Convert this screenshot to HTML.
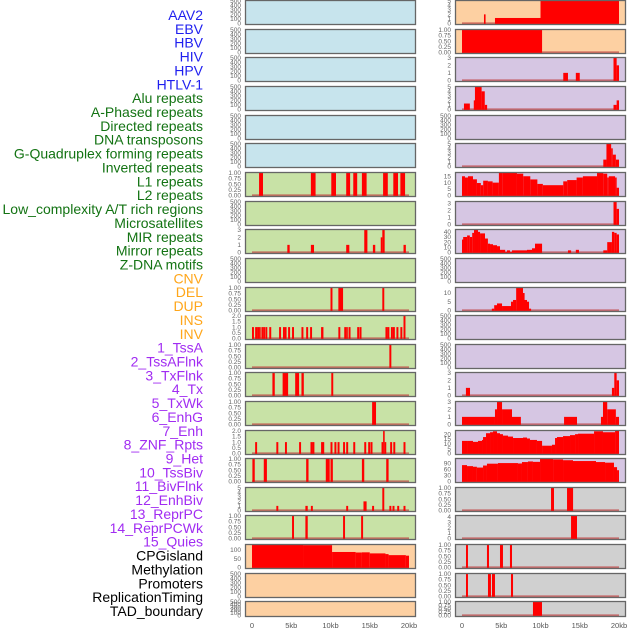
<!DOCTYPE html>
<html><head><meta charset="utf-8">
<style>
html,body{margin:0;padding:0;background:#fff;}
svg{display:block;font-family:"Liberation Sans",sans-serif;}
</style></head>
<body>
<svg id="chart" width="630" height="630" viewBox="0 0 630 630" xmlns="http://www.w3.org/2000/svg"></svg>
<script>
// ---- data (kb segments: [startKb, endKb, value]) ----
const labels = ["AAV2","EBV","HBV","HIV","HPV","HTLV-1","Alu repeats","A-Phased repeats","Directed repeats","DNA transposons","G-Quadruplex forming repeats","Inverted repeats","L1 repeats","L2 repeats","Low_complexity A/T rich regions","Microsatellites","MIR repeats","Mirror repeats","Z-DNA motifs","CNV","DEL","DUP","INS","INV","1_TssA","2_TssAFlnk","3_TxFlnk","4_Tx","5_TxWk","6_EnhG","7_Enh","8_ZNF_Rpts","9_Het","10_TssBiv","11_BivFlnk","12_EnhBiv","13_ReprPC","14_ReprPCWk","15_Quies","CPGisland","Methylation","Promoters","ReplicationTiming","TAD_boundary"];
const labelGroups = [6,13,5,15,5];
const xTickLabels = ["0","5kb","10kb","15kb","20kb"];
const xTickValues = [0,5,10,15,20];

const segAlu = [[0.9,1.4,1],[7.5,8.1,1],[10.1,10.7,1],[12.0,12.5,1],[12.9,13.4,1],[14.0,14.6,1],[16.7,17.3,1],[18.0,18.6,1],[18.9,19.5,1]];
const segDirected = [[4.5,4.8,1],[7.5,7.9,1],[12.0,12.4,1],[14.3,14.7,3],[15.4,15.7,1],[16.4,16.6,2],[16.6,16.9,3],[19.3,19.6,1]];
const segGQuad = [[10.0,10.25,1],[11.0,11.6,1],[16.6,16.85,1]];
const segInverted = [[0.0,0.25,1],[0.4,0.65,1],[0.65,0.9,1],[0.9,1.1,1],[1.2,1.45,1],[1.45,1.6,1],[1.7,1.95,1],[2.2,2.45,1],[3.45,3.7,1],[3.95,4.2,1],[4.2,4.4,1],[4.6,4.85,1],[5.1,5.35,1],[6.3,6.55,1],[6.9,7.15,1],[7.4,7.65,1],[8.8,9.1,1],[11.0,11.25,1],[11.75,12.0,1],[12.0,12.2,1],[12.3,12.55,1],[13.4,13.65,1],[13.7,13.95,1],[17.0,17.25,1],[17.25,17.5,1],[17.7,17.95,1],[17.95,18.2,1],[18.4,18.65,1],[18.9,19.15,1],[19.3,19.55,2]];
const segL1 = [[17.5,17.75,1]];
const segL2 = [[2.6,2.9,1],[3.9,4.6,1],[5.5,6.0,1],[6.3,6.6,1],[10.1,10.35,1]];
const segLowComplexity = [[15.3,15.8,1]];
const segMicrosat = [[0.4,0.65,1],[3.1,3.35,1],[4.2,4.45,1],[6.0,6.25,1],[7.45,7.7,1],[7.7,7.95,1],[8.8,9.2,1],[10.0,10.25,1],[10.5,10.75,1],[10.9,11.15,1],[11.6,11.85,1],[12.0,12.25,1],[12.9,13.15,1],[14.3,14.55,1],[14.8,15.05,1],[15.1,15.35,1],[16.5,16.7,1],[16.7,16.9,2],[16.9,17.1,1],[17.6,17.85,1],[18.0,18.25,1],[19.3,19.55,1]];
const segMIR = [[0.05,0.35,1],[1.5,1.9,1],[6.9,7.2,1],[9.4,9.9,1],[10.0,10.3,1],[14.0,14.3,1],[17.1,17.4,1]];
const segMirror = [[3.1,3.35,1],[6.8,7.1,1],[7.5,7.75,1],[12.0,12.25,1],[14.2,14.6,2],[15.3,15.55,1],[16.6,16.85,5],[17.5,17.75,1],[17.9,18.15,1],[18.5,18.75,1],[19.3,19.55,1]];
const segZDNA = [[5.1,5.35,1],[6.8,7.1,1],[11.6,11.85,1],[13.9,14.15,1]];
const segCNV = [[0,6.5,128],[6.5,10.2,127],[10.2,13.2,88],[13.2,14.0,85],[14.0,15.0,86],[15.0,17.0,80],[17.0,17.4,76],[17.4,19.6,70],[19.6,20.0,67]];

const segINS = [[2.8,3.0,2],[4.2,10.0,1.2],[10.0,20.0,5]];
const segINV = [[0,10.2,1]];
const segTssA = [[12.9,13.5,1],[14.5,15.0,1],[19.3,19.7,3],[19.7,20,2]];
const segTssAFlnk = [[0.25,1.0,1.3],[1.5,1.65,2],[1.65,2.5,5],[2.5,2.9,4],[2.9,3.2,1],[19.3,19.7,1],[19.7,20,2]];
const segTx = [[18.0,18.4,1.5],[18.4,19.0,5],[19.0,19.2,4],[19.2,19.6,2.6],[19.6,20,1.5]];
const segTxWk = [[0,0.38,15],[0.38,0.76,14],[0.76,1.4,15],[1.4,1.9,12.6],[1.9,2.4,9.7],[2.4,2.7,8],[2.7,3.3,11.5],[3.3,3.9,11],[3.9,4.7,10],[4.7,5.2,17.8],[5.2,7.0,17.8],[7.0,7.8,17],[7.8,8.7,15],[8.7,9.6,12.5],[9.6,10.3,9],[10.3,12.9,8],[12.9,13.4,11],[13.4,14.6,12],[14.6,15.4,14],[15.4,17.2,15],[17.2,18.0,17.5],[18.0,18.5,17],[18.5,18.7,14],[18.7,19.5,15],[19.5,19.7,14],[19.7,20.0,6]];
const segEnhG = [[19.3,19.7,3.2],[19.7,20.0,2.2]];
const segEnh = [[0,0.15,25],[0.15,0.65,30],[0.65,1.0,33],[1.0,1.3,30],[1.3,1.53,38],[1.53,2.04,44],[2.04,2.3,40],[2.3,2.93,37],[2.93,3.3,27],[3.3,3.57,17],[3.57,3.95,16],[3.95,4.46,14],[4.46,4.84,12],[4.84,5.5,5],[5.5,5.73,1],[5.73,6.11,4],[6.11,6.37,1],[6.37,8.28,4],[8.28,8.92,5],[8.92,9.3,8],[9.3,10.2,17],[13.5,13.9,4],[14.5,14.9,5],[18.0,18.5,4],[18.5,19.1,20],[19.1,19.4,40],[19.4,19.7,38],[19.7,20.0,35]];
const segHet = [[3.8,4.1,1],[4.1,4.46,3],[4.46,5.1,4],[5.1,6.24,2.5],[6.24,6.5,5],[6.5,6.9,6],[6.9,7.77,13.8],[7.77,7.9,10],[7.9,8.28,6],[8.28,8.54,5],[8.54,8.8,1]];
const segEnhBiv = [[0.5,1.02,1],[19.1,19.4,1],[19.4,19.7,3],[19.7,20.0,2]];
const segReprPC = [[0,4.2,1],[4.2,4.46,2],[4.46,5.1,3],[5.1,6.37,2],[6.37,7.5,1],[13.0,14.65,1],[17.7,17.96,1],[17.96,18.5,3],[18.5,19.6,2],[19.6,20.0,1]];
const segReprPCWk = [[0,0.76,13],[0.76,1.4,13],[1.4,2.04,12],[2.04,2.55,13],[2.55,2.68,14],[2.68,3.06,17],[3.06,3.57,21],[3.57,3.95,22],[3.95,4.46,23],[4.46,4.84,21],[4.84,5.22,20],[5.22,5.86,18.5],[5.86,6.5,17.5],[6.5,7.77,16],[7.77,8.28,16.5],[8.28,8.66,15.5],[8.66,9.55,14],[9.55,10.2,13],[10.2,11.46,8],[11.46,11.85,9],[11.85,12.1,16],[12.1,12.87,17],[12.87,13.76,18],[13.76,14.4,19],[14.4,14.78,20],[14.78,16.82,20.5],[16.82,17.96,23],[17.96,19.5,22],[19.5,20.0,24]];
const segQuies = [[0,0.64,80],[0.64,1.4,75],[1.4,1.9,72],[1.9,2.68,68],[2.68,3.18,78],[3.18,4.58,87],[4.58,7.13,90],[7.13,7.64,88],[7.64,8.4,95],[8.4,9.04,98],[9.04,9.94,96],[9.94,11.6,112],[11.6,12.87,108],[12.87,14.14,104],[14.14,17.07,100],[17.07,18.22,95],[18.22,19.36,92],[19.36,19.75,70],[19.75,20.0,55]];
const segCPG = [[11.34,11.72,1],[13.38,14.15,1]];
const segMethyl = [[13.89,14.65,4.3]];
const segPromoters = [[0.51,0.76,1],[3.18,3.44,1],[4.84,5.22,1],[6.11,6.37,1]];
const segReplication = [[0.51,0.76,1],[3.31,3.69,1],[3.82,4.2,1],[6.24,6.5,1]];
const segTAD = [[9.04,10.19,1]];

const emptyTicks = [0,100,200,300,400,500];
const ticks01 = [0,0.25,0.5,0.75,1];

// panel config: [data, yMax, ticks, decimals]
const leftPanels = [
 [null],[null],[null],[null],[null],[null],
 [segAlu,1,ticks01,2],[null],[segDirected,3,[0,1,2,3],0],[null],
 [segGQuad,1,ticks01,2],[segInverted,2,[0,0.5,1,1.5,2],1],[segL1,1,ticks01,2],[segL2,1,ticks01,2],
 [segLowComplexity,1,ticks01,2],[segMicrosat,2,[0,0.5,1,1.5,2],1],[segMIR,1,ticks01,2],[segMirror,5,[0,1,2,3,4,5],0],
 [segZDNA,1,ticks01,2],[segCNV,129,[0,50,100],0],[null],[null]
];
const rightPanels = [
 [segINS,5,[0,1,2,3,4,5],0],[segINV,1,ticks01,2],[segTssA,3,[0,1,2,3],0],[segTssAFlnk,5,[0,1,2,3,4,5],0],
 [null],[segTx,5,[0,1,2,3,4,5],0],[segTxWk,17.7,[0,5,10,15],0],[segEnhG,3.2,[0,1,2,3],0],
 [segEnh,44,[0,10,20,30,40],0],[null],[segHet,13,[0,5,10],0],[null],[null],
 [segEnhBiv,3,[0,1,2,3],0],[segReprPC,3,[0,1,2,3],0],[segReprPCWk,23.5,[0,5,10,15,20],0],[segQuies,111,[0,30,60,90],0],
 [segCPG,1,ticks01,2],[segMethyl,4.2,[0,1,2,3,4],0],[segPromoters,1,ticks01,2],[segReplication,1,ticks01,2],[segTAD,1,ticks01,2]
];
const rowTops = [0,29,57,86,115,143,172,201,229,258,287,315,344,372,401,430,458,487,515,544,573,601];
const leftColors = ["#c7e4ed","#c7e4ed","#c7e4ed","#c7e4ed","#c7e4ed","#c7e4ed","#c8e2a6","#c8e2a6","#c8e2a6","#c8e2a6","#c8e2a6","#c8e2a6","#c8e2a6","#c8e2a6","#c8e2a6","#c8e2a6","#c8e2a6","#c8e2a6","#c8e2a6","#fdd0a2","#fdd0a2","#fdd0a2"];
const rightColors = ["#fdd0a2","#fdd0a2","#d6c6e3","#d6c6e3","#d6c6e3","#d6c6e3","#d6c6e3","#d6c6e3","#d6c6e3","#d6c6e3","#d6c6e3","#d6c6e3","#d6c6e3","#d6c6e3","#d6c6e3","#d6c6e3","#d6c6e3","#d0d0d0","#d0d0d0","#d0d0d0","#d0d0d0","#d0d0d0"];

const NS = "http://www.w3.org/2000/svg";
const svg = document.getElementById("chart");
function mk(tag, attrs){ const e=document.createElementNS(NS,tag); for(const k in attrs) e.setAttribute(k,attrs[k]); return e; }

// labels
const groupColors = ["#1f1fef","#137313","#ffa61a","#a12cf2","#000000"];
let li=0;
labelGroups.forEach((n,g)=>{ for(let i=0;i<n;i++){
  const t=mk("text",{x:203,y:20+li*13.86,"text-anchor":"end","font-size":"14",fill:groupColors[g]});
  
  
  t.textContent=labels[li]; svg.appendChild(t); li++; }});

function xScale(col, kb){ return (col===0?252:462) + kb*7.85; }

function drawPanel(col,row,cfg,color){
  const x0 = col===0?245:455, w=171;
  const top = rowTops[row], h = row===21?16:25;
  const g = mk("g",{});
  
  
  svg.appendChild(g);
  const bg = mk("rect",{x:x0,y:top,width:w,height:h,fill:color});
  
  
  g.appendChild(bg);
  const data=cfg[0];
  const yTop=top+0.8, yZero=top+h-1.6;
  let yMax = data?cfg[1]:500, ticks = data?cfg[2]:emptyTicks, dec = data?cfg[3]:0;
  const ys = v => yZero - (v/yMax)*(yZero-yTop);
  if(data){
    const base=mk("line",{x1:xScale(col,0),x2:xScale(col,20),y1:yZero,y2:yZero,stroke:"#c04040","stroke-width":2,"stroke-opacity":0.7});
    
    
    g.appendChild(base);
    data.forEach(s=>{
      const xa=xScale(col,s[0]), xb=xScale(col,s[1]);
      const yv=Math.max(top, ys(s[2]));
      const r=mk("rect",{x:xa,y:yv,width:Math.max(1.6,xb-xa),height:yZero+0.5-yv,fill:"#ff0000"});
      
      
      g.appendChild(r);
    });
  }
  const fr=mk("rect",{x:x0+0.5,y:top+0.5,width:w-1,height:h-1,fill:"none",stroke:"#666","stroke-width":1.3});
  
  
  g.appendChild(fr);
  ticks.forEach(v=>{
    const t=mk("text",{x:x0-4,y:ys(v)+2.2,"text-anchor":"end","font-size":"6.5",fill:"#666"});
    
    
    t.textContent=v.toFixed(dec); g.appendChild(t);
  });
}
leftPanels.forEach((c,i)=>drawPanel(0,i,c,leftColors[i]));
rightPanels.forEach((c,i)=>drawPanel(1,i,c,rightColors[i]));

[0,1].forEach(col=>{
  xTickValues.forEach((v,i)=>{
    const t=mk("text",{x:xScale(col,v),y:628,"text-anchor":"middle","font-size":"7.5",fill:"#555"});
    
    
    t.textContent=xTickLabels[i]; svg.appendChild(t);
  });
});
</script>
</body></html>
